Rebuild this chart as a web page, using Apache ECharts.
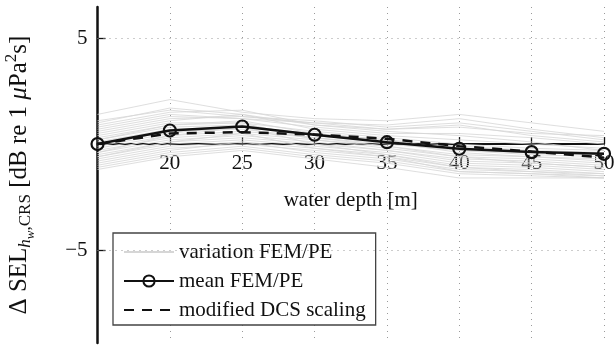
<!DOCTYPE html>
<html><head><meta charset="utf-8">
<script src="https://cdn.jsdelivr.net/npm/echarts@6/dist/echarts.min.js"></script>
<style>html,body{margin:0;padding:0;background:#fff}#c{width:614px;height:346px}</style>
</head><body><div id="c"></div>
<script>
const depths = [15, 20, 25, 30, 35, 40, 45, 50];
const meanFEM = [0, 0.64, 0.83, 0.44, 0.09, -0.22, -0.38, -0.46];
const modDCS = [0, 0.5, 0.56, 0.45, 0.25, -0.1, -0.35, -0.64];
const variation = [
  [1.4, 2.1, 1.5, 1.2, 1.1, 1.4, 1.0, 0.6],
  [1.1, 1.6, 1.3, 1.0, 0.9, 1.2, 0.7, 0.3],
  [0.9, 1.5, 1.6, 0.9, 0.7, 0.9, 0.4, 0.1],
  [0.7, 1.3, 1.2, 0.8, 0.5, 0.5, 0.3, 0.0],
  [0.5, 1.1, 1.4, 0.7, 0.4, 0.2, 0.0, -0.2],
  [0.4, 1.0, 1.0, 0.6, 0.3, 0.0, -0.2, -0.3],
  [0.3, 0.9, 1.1, 0.5, 0.2, -0.1, -0.3, -0.4],
  [0.2, 0.8, 0.9, 0.4, 0.1, -0.2, -0.4, -0.5],
  [0.1, 0.7, 0.8, 0.5, 0.2, -0.3, -0.5, -0.6],
  [0.0, 0.6, 0.7, 0.3, 0.0, -0.3, -0.4, -0.5],
  [-0.1, 0.5, 0.9, 0.4, 0.1, -0.4, -0.6, -0.7],
  [-0.2, 0.4, 0.6, 0.3, -0.1, -0.5, -0.6, -0.8],
  [-0.3, 0.3, 0.5, 0.2, -0.2, -0.6, -0.7, -0.9],
  [-0.4, 0.2, 0.4, 0.1, -0.3, -0.7, -0.8, -1.0],
  [-0.5, 0.1, 0.3, 0.0, -0.3, -0.8, -0.9, -1.1],
  [-0.6, 0.0, 0.2, -0.1, -0.4, -0.9, -1.0, -1.2],
  [-0.7, -0.1, 0.1, -0.2, -0.5, -1.0, -1.1, -1.3],
  [-0.8, -0.2, 0.0, -0.3, -0.6, -1.1, -1.2, -1.4],
  [-0.9, -0.3, 0.1, -0.4, -0.7, -1.2, -1.3, -1.5],
  [-1.0, -0.4, -0.1, -0.5, -0.8, -1.3, -1.4, -1.5],
  [-1.1, -0.5, -0.2, -0.6, -0.9, -1.4, -1.5, -1.6],
  [-1.2, -0.6, -0.3, -0.7, -1.1, -1.6, -1.6, -1.6],
  [0.6, 1.2, 1.3, 1.1, 0.8, 1.0, 0.6, 0.2],
  [0.8, 1.4, 1.2, 1.0, 0.7, 0.8, 0.5, 0.4],
  [0.2, 0.9, 1.0, 0.2, -0.1, -0.6, -0.9, -1.1],
  [-0.4, 0.4, 0.8, 0.0, -0.5, -1.1, -1.3, -1.4],
  [1.0, 1.7, 1.4, 0.9, 0.6, 0.4, 0.1, -0.3],
  [-0.6, 0.1, 0.5, -0.2, -0.6, -1.3, -1.4, -1.6]
];
const yTickLabels = [-5, 5];
const yGridValues = [-5, 5];
const yMin = -9.39, yMax = 6.47;

const FONT = 'Liberation Serif';
const GRID_TOP = 7, GRID_BOTTOM = 3, H = 346;
const chart = echarts.init(document.getElementById('c'), null, {renderer: 'canvas'});
const pair = arr => depths.map((d, i) => [d, arr[i]]);
// place x axis at y = 0 (computed from axis range)
const plotH = H - GRID_TOP - GRID_BOTTOM;
const zeroOffset = -plotH * (0 - yMin) / (yMax - yMin);

const series = [];
variation.forEach((v, k) => {
  series.push({
    name: 'variation FEM/PE', type: 'line', data: pair(v), symbol: 'none', silent: true,
    lineStyle: {color: '#d6d6d6', width: 0.8}, itemStyle: {color: '#d6d6d6'}, z: 1,
    markLine: k === 0 ? {
      silent: true, symbol: 'none', label: {show: false},
      lineStyle: {color: '#9a9a9a', type: [1, 5], width: 1},
      data: yGridValues.map(y => ({yAxis: y}))
    } : undefined
  });
});
series.push({
  name: 'modified DCS scaling', type: 'line', data: pair(modDCS), symbol: 'none',
  lineStyle: {color: '#111', width: 2.5, type: [10, 8]}, itemStyle: {color: '#111'}, z: 3
});
series.push({
  name: 'mean FEM/PE', type: 'line', data: pair(meanFEM), symbol: 'circle', symbolSize: 12,
  lineStyle: {color: '#111', width: 2.5},
  itemStyle: {color: 'rgba(0,0,0,0)', borderColor: '#111', borderWidth: 2.2}, z: 4
});

chart.setOption({
  backgroundColor: '#fff',
  animation: false,
  textStyle: {fontFamily: FONT},
  grid: {left: 97.5, right: 10, top: GRID_TOP, bottom: GRID_BOTTOM, containLabel: false, outerBoundsMode: 'none'},
  legend: {
    orient: 'vertical', left: 113, top: 233,
    data: [
      {name: 'variation FEM/PE', itemStyle: {opacity: 0}},
      {name: 'mean FEM/PE'},
      {name: 'modified DCS scaling', itemStyle: {opacity: 0}}
    ],
    itemWidth: 50, itemHeight: 14, itemGap: 7,
    padding: [8, 10, 4, 10],
    backgroundColor: '#fff', borderColor: '#444', borderWidth: 1.3, borderRadius: 0,
    textStyle: {fontFamily: FONT, fontSize: 21, color: '#111', lineHeight: 22}
  },
  xAxis: {
    type: 'value', min: 15, max: 50, interval: 5, position: 'bottom', offset: zeroOffset,
    name: 'water depth [m]', nameLocation: 'middle', nameGap: 46,
    nameTextStyle: {fontFamily: FONT, fontSize: 21, color: '#111'},
    axisLine: {onZero: false, lineStyle: {color: '#111', width: 2}},
    axisTick: {inside: true, length: 7, lineStyle: {color: '#111', width: 1.3}},
    axisLabel: {showMinLabel: false, fontFamily: FONT, fontSize: 21, color: '#111', margin: 9},
    splitLine: {show: true, lineStyle: {color: '#9a9a9a', type: [1, 5], width: 1}}
  },
  yAxis: {
    type: 'value', min: yMin, max: yMax,
    name: '{t|Δ SEL}{i|h}{ss|w}{s|,CRS}{t| [dB re 1 }{it|μ}{t|Pa}{sup|2}{t|s]}',
    nameLocation: 'middle', nameRotate: 90, nameGap: 62,
    nameTextStyle: {
      fontFamily: FONT, fontSize: 25, color: '#111',
      rich: {
        t: {fontFamily: FONT, fontSize: 25, color: '#111', lineHeight: 32, verticalAlign: 'middle'},
        it: {fontFamily: FONT, fontSize: 25, fontStyle: 'italic', color: '#111', lineHeight: 32},
        i: {fontFamily: FONT, fontSize: 17, fontStyle: 'italic', color: '#111', lineHeight: 17, verticalAlign: 'bottom', padding: [0, 0, 1, 0]},
        ss: {fontFamily: FONT, fontSize: 13, fontStyle: 'italic', color: '#111', lineHeight: 13, verticalAlign: 'bottom', padding: [0, 0, -2, 0]},
        s: {fontFamily: FONT, fontSize: 17, color: '#111', lineHeight: 17, verticalAlign: 'bottom', padding: [0, 0, 1, 0]},
        sup: {fontFamily: FONT, fontSize: 17, color: '#111', lineHeight: 17, verticalAlign: 'top'}
      }
    },
    axisLine: {onZero: false, lineStyle: {color: '#111', width: 2.5}},
    axisTick: {inside: true, length: 8, lineStyle: {color: '#111', width: 1.3}, customValues: yTickLabels},
    axisLabel: {fontFamily: FONT, fontSize: 21, color: '#111', margin: 10, customValues: yTickLabels,
      formatter: v => v < 0 ? '\u2212' + Math.abs(v) : String(v)},
    splitLine: {show: false}
  },
  series: series
});
</script></body></html>
